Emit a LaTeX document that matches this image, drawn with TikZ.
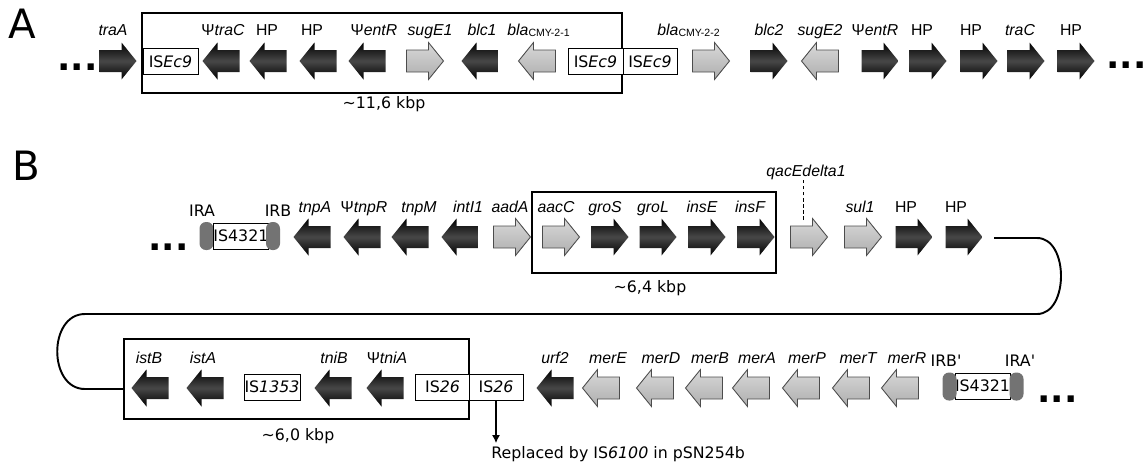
\documentclass[tikz,border=0pt]{standalone}
\usepackage{fontspec}
\setmainfont{DejaVu Sans}
\newfontfamily\genefont{Liberation Sans}
\usetikzlibrary{arrows.meta}

\tikzset{
  gname/.style={font=\genefont\fontsize{9}{10}\selectfont\itshape, anchor=base, inner sep=0pt},
  plain/.style={font=\genefont\fontsize{9}{10}\selectfont, anchor=base, inner sep=0pt},
  irlbl/.style={font=\fontsize{9}{10}\selectfont, anchor=base, inner sep=0pt},
  isbox/.style={draw, fill=white, line width=0.5pt, minimum width=1.1cm, minimum height=0.52cm,
    inner sep=0pt, font=\fontsize{9}{10}\selectfont},
  irpill/.style={fill=black!55, minimum width=0.28cm, minimum height=0.56cm, inner sep=0pt,
    rounded corners=0.13cm},
  region/.style={draw, line width=0.8pt, inner sep=0pt},
  sizelbl/.style={font=\fontsize{9}{10}\selectfont, inner sep=0pt},
  dotsep/.style={font=\bfseries\fontsize{20}{20}\selectfont, anchor=base west, inner sep=0pt},
  panel/.style={font=\fontsize{23}{23}\selectfont, anchor=base west, inner sep=0pt},
  dark/.style={top color=black, bottom color=black, middle color=black!72},
  light/.style={top color=black!15, bottom color=black!32, draw=black!70, line width=0.5pt},
  % gene arrow: #1 = 1 (right) or -1 (left), #2 = look
  pics/gene/.style 2 args={code={
    \path[#2, xscale=#1] (-18.5,-11) -- (3.5,-11) -- (3.5,-18.5) -- (18.5,0)
      -- (3.5,18.5) -- (3.5,11) -- (-18.5,11) -- cycle;}},
}

\begin{document}
\begin{tikzpicture}[x=0.02cm, y=-0.02cm]
  \useasboundingbox (0,0) rectangle (1146,461);

  % ---------- A ----------
  \node[panel] (pA) at (8,38) {A};
  \node[region, minimum width=9.6cm, minimum height=1.6cm] (boxA) at (382,53) {};
  \node[sizelbl] (kbpA) at (384,104) {\textasciitilde 11,6 kbp};
  \node[dotsep] (dotsA1) at (57,70) {...};
  \node[dotsep] (dotsA2) at (1106,68) {...};

  \foreach \x/\d in {118/1,221/-1,268/-1,318/-1,367/-1,480/-1,769/1,880/1,928/1,979/1,1026/1,1076/1}
    \pic at (\x,61) {gene={\d}{dark}};
  \foreach \x/\d in {425/1,537/-1,711/1,820/-1}
    \pic at (\x,61) {gene={\d}{light}};

  \foreach \x/\t [count=\i] in {113/traA,430/sugE1,482/blc1,769/blc2,820/sugE2,1020/traC}
    \node[gname] (gA\i) at (\x,35) {\t};
  \foreach \x [count=\i] in {267,312,922,971,1071}
    \node[plain] (hpA\i) at (\x,35) {HP};
  \node[gname] (psiA1) at (223,35) {\upshape Ψ\itshape traC};
  \node[gname] (psiA2) at (374,35) {\upshape Ψ\itshape entR};
  \node[gname] (psiA3) at (875,35) {\upshape Ψ\itshape entR};
  \node[gname] (blaA1) at (539,35) {bla\textsubscript{\upshape CMY-2-1}};
  \node[gname] (blaA2) at (689,35) {bla\textsubscript{\upshape CMY-2-2}};

  \node[isbox] (isA1) at (170.5,61.5) {IS\textit{Ec9}};
  \node[isbox] (isA2) at (595.5,61.5) {IS\textit{Ec9}};
  \node[isbox, minimum width=1.08cm] (isA3) at (650,61.5) {IS\textit{Ec9}};

  % ---------- B, first row ----------
  \node[panel] (pB) at (12,180) {B};
  \node[dotsep] (dotsB1) at (148,250) {...};
  \node[irpill] (ira) at (206.5,236) {};
  \node[isbox, anchor=west] (isB1) at (213,236) {IS4321};
  \node[irpill] (irb) at (273,236) {};
  \node[irlbl] (iralbl) at (202,216) {IRA};
  \node[irlbl] (irblbl) at (278,216) {IRB};

  \node[region, minimum width=4.88cm, minimum height=1.62cm] (boxB1) at (654,232.5) {};
  \node[sizelbl] (kbpB1) at (650,288) {\textasciitilde 6,4 kbp};

  \foreach \x/\d in {312/-1,362/-1,410/-1,460/-1,610/1,658/1,707/1,756/1,914/1,964/1}
    \pic at (\x,237) {gene={\d}{dark}};
  \foreach \x in {512,561,809,863}
    \pic at (\x,237) {gene={1}{light}};

  \foreach \x/\t [count=\i] in {315/tnpA,419/tnpM,468/intI1,510/aadA,556/aacC,605/groS,653/groL,702/insE,750/insF,860/sul1}
    \node[gname] (gB\i) at (\x,212) {\t};
  \node[gname] (psiB1) at (364,212) {\upshape Ψ\itshape tnpR};
  \foreach \x [count=\i] in {906,956}
    \node[plain] (hpB\i) at (\x,212) {HP};
  \node[gname] (qaclbl) at (806,176) {qacEdelta1};
  \coordinate (qacE) at (803,220);
  \draw[dashed, line width=0.5pt, dash pattern=on 2pt off 1.5pt] (qacE) -- (qacE |- qaclbl.south);

  % loop down to the second row
  \coordinate (loopA) at (994,238);
  \coordinate (loopB) at (124,389);
  \draw[line width=1.1pt] (loopA) -- (1037,238) .. controls (1069,238) and (1069,314) .. (1037,314)
    -- (85,314) .. controls (48,314) and (48,389) .. (85,389) -- (loopB);

  % ---------- B, second row ----------
  \node[region, minimum width=6.9cm, minimum height=1.6cm] (boxB2) at (296.5,379) {};
  \node[sizelbl] (kbpB2) at (298,436) {\textasciitilde 6,0 kbp};

  \foreach \x in {150,205,333,385,555}
    \pic at (\x,388) {gene={-1}{dark}};
  \foreach \x in {601,655,704,751,801,851,900}
    \pic at (\x,388) {gene={-1}{light}};

  \foreach \x/\t [count=\i] in {149/istB,203/istA,334/tniB,555/urf2,608/merE,661/merD,710/merB,757/merA,807/merP,858/merT,907/merR}
    \node[gname] (gC\i) at (\x,363) {\t};
  \node[gname] (psiC1) at (387,363) {\upshape Ψ\itshape tniA};

  \node[isbox, minimum width=1.12cm] (isC1) at (272,387) {IS\textit{1353}};
  \node[isbox, minimum width=1.07cm] (isC2) at (442.5,387) {IS\textit{26}};
  \node[isbox, minimum width=1.08cm] (isC3) at (496,387) {IS\textit{26}};

  \node[isbox] (isC4) at (982.5,386) {IS4321};
  \node[irpill] (irbp) at (949.5,386.5) {};
  \node[irpill] (irap) at (1016.5,386.5) {};
  \node[irlbl] (irbplbl) at (946,366) {IRB\textquotesingle};
  \node[irlbl] (iraplbl) at (1020,366) {IRA\textquotesingle};
  \node[dotsep] (dotsC1) at (1037,402) {...};

  \node[anchor=base west, inner sep=0pt, font=\fontsize{9}{10}\selectfont] (note) at (491,458)
    {Replaced by IS\textit{6100} in pSN254b};
  \draw[-{Latex[length=4.5pt,width=4.5pt]}, line width=0.6pt, shorten >=1.5pt] (isC3.south) -- (isC3.south |- note.north);
\end{tikzpicture}
\end{document}
